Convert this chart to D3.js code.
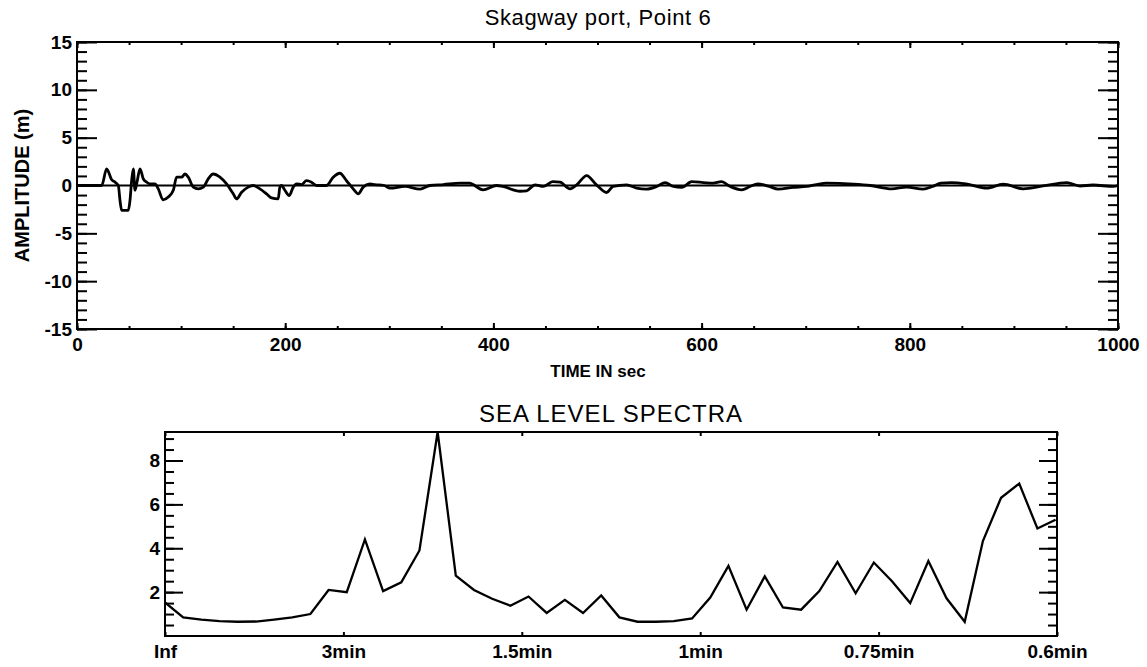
<!DOCTYPE html>
<html>
<head>
<meta charset="utf-8">
<script src="https://cdn.jsdelivr.net/npm/d3@7"></script>
<style>
  html, body { margin: 0; padding: 0; background: #fff; }
  svg { display: block; }
  text { font-family: "Liberation Sans", Arial, Helvetica, sans-serif; fill: #000; }
</style>
</head>
<body>
<svg id="chart" width="1147" height="667"></svg>
<script>
// ---------------- DATA ----------------
// Top panel: time series (sec, metres)
const topTimes = [0, 23.7, 28.5, 33.3, 36.5, 39.7, 41.3, 42.9, 49.3, 50.9, 52.5, 54.1, 55.7, 57.9, 60.5,
  63.7, 66.9, 70.1, 74.9, 78.1, 82.7, 87.7, 92.5, 95.7, 100.5, 103.7, 106.9, 111.7, 116.5, 121.3,
  126.1, 130.9, 137.3, 143.7, 150.1, 153.3, 158.1, 164.5, 169.3, 175.7, 182.1, 186.9, 193.3, 194.9,
  196.5, 199.7, 203.9, 207.7, 210.9, 215.7, 220.5, 225.3, 230.1, 239.7, 246.1, 252.5, 258.9, 265.3,
  270.1, 274.9, 281.3, 286.1, 295, 300.7, 315, 329.5, 339, 352, 368, 377, 390, 403, 409, 425.6, 432,
  440, 448, 457, 464, 473.6, 480, 489.6, 499, 508.8, 515, 528, 537.6, 547, 557, 565, 573, 581, 590.5,
  601.7, 611, 619, 627.5, 638.5, 646.5, 654, 665, 673.5, 688, 701, 710.5, 720, 746, 762, 782.6, 797,
  812.8, 822, 830, 840, 854, 874, 889.7, 908.9, 928, 950.7, 963.5, 976, 995.6, 1000];
const topAmps = [0, 0, 1.74, 0.6, 0.35, 0, -1.56, -2.6, -2.6, -1.56, 0.5, 1.74, -0.5, 0.5, 1.74,
  0.7, 0.35, 0.17, 0.17, -0.35, -1.5, -1.2, -0.5, 0.87, 0.87, 1.2, 0.87, -0.17, -0.35, -0.17,
  0.7, 1.2, 0.87, 0.17, -0.87, -1.4, -0.7, -0.17, 0, -0.35, -0.87, -1.3, -1.4, -0.17,
  0, -0.5, -1.05, -0.17, 0.17, 0.1, 0.5, 0.35, 0, 0, 0.87, 1.28, 0.5, -0.35,
  -0.87, -0.17, 0.17, 0.1, 0, -0.28, -0.1, -0.38, 0, 0.1, 0.24, 0.24, -0.45, 0, -0.1, -0.6, -0.55,
  0.07, -0.1, 0.4, 0.35, -0.35, 0.07, 1.04, 0.07, -0.73, -0.1, 0.07, -0.28, -0.38, -0.1, 0.31, -0.1, -0.2, 0.4,
  0.31, 0.24, 0.4, -0.1, -0.45, -0.1, 0.17, -0.1, -0.38, -0.2, -0.1, 0.1, 0.24, 0.14, 0, -0.35, -0.17,
  -0.38, -0.1, 0.24, 0.31, 0.17, -0.28, 0.14, -0.35, -0.05, 0.31, -0.05, 0.05, -0.1, 0];
const topXTicks = [0, 200, 400, 600, 800, 1000];
const topYTicks = [-15, -10, -5, 0, 5, 10, 15];

// Bottom panel: spectrum (frequency in mHz, spectral amplitude)
const specFreq = [0, 0.566, 1.132, 1.698, 2.264, 2.83, 3.396, 3.962, 4.528, 5.094, 5.66, 6.226, 6.792,
  7.358, 7.924, 8.49, 9.056, 9.622, 10.188, 10.754, 11.32, 11.886, 12.452, 13.018, 13.584, 14.15,
  14.716, 15.282, 15.848, 16.414, 16.98, 17.546, 18.112, 18.678, 19.244, 19.81, 20.376, 20.942,
  21.508, 22.074, 22.64, 23.206, 23.772, 24.338, 24.904, 25.47, 26.036, 26.602, 27.168, 27.734];
const specValues = [1.53, 0.85, 0.75, 0.68, 0.65, 0.66, 0.75, 0.85, 1.0, 2.1, 2.0, 4.4, 2.05,
  2.45, 3.9, 9.3, 2.75, 2.1, 1.7, 1.38, 1.8, 1.05, 1.65, 1.05, 1.85, 0.85,
  0.65, 0.65, 0.68, 0.8, 1.75, 3.2, 1.2, 2.72, 1.3, 1.2, 2.05, 3.38,
  1.95, 3.35, 2.5, 1.5, 3.42, 1.72, 0.65, 4.33, 6.3, 6.95, 4.9, 5.3];
const specXTicks = [0, 5.556, 11.111, 16.667, 22.222, 27.778];
const specXLabels = ["Inf", "3min", "1.5min", "1min", "0.75min", "0.6min"];
const specYTicks = [2, 4, 6, 8];

// ---------------- DRAW ----------------
const svg = d3.select("#chart");
svg.append("rect").attr("width", 1147).attr("height", 667).attr("fill", "#fff");

function frame(g, x, y, opts) {
  const [x0, x1] = x.range();
  const [y0, y1] = y.range(); // y0 bottom, y1 top
  const sw = 2;
  g.append("g").attr("transform", `translate(${x0},0)`)
    .call(d3.axisLeft(y).tickValues(opts.yMinor).tickSize(-opts.yMinorLen).tickFormat(""));
  g.append("g").attr("transform", `translate(${x1},0)`)
    .call(d3.axisRight(y).tickValues(opts.yMinor).tickSize(-opts.yMinorLen).tickFormat(""));
  g.append("g").attr("transform", `translate(${x0},0)`)
    .call(d3.axisLeft(y).tickValues(opts.yTicks).tickSize(-opts.yMajorLen).tickPadding(5)
      .tickFormat(d => String(d)));
  g.append("g").attr("transform", `translate(${x1},0)`)
    .call(d3.axisRight(y).tickValues(opts.yTicks).tickSize(-opts.yMajorLen).tickFormat(""));
  if (opts.xMinor) {
    g.append("g").attr("transform", `translate(0,${y0})`)
      .call(d3.axisBottom(x).tickValues(opts.xMinor).tickSize(-opts.xMinorLen).tickFormat(""));
    g.append("g").attr("transform", `translate(0,${y1})`)
      .call(d3.axisTop(x).tickValues(opts.xMinor).tickSize(-opts.xMinorLen).tickFormat(""));
  }
  g.append("g").attr("transform", `translate(0,${y0})`)
    .call(d3.axisBottom(x).tickValues(opts.xTicks).tickSize(-opts.xMajorLen).tickPadding(9)
      .tickFormat(opts.xFormat));
  g.append("g").attr("transform", `translate(0,${y1})`)
    .call(d3.axisTop(x).tickValues(opts.xTicks).tickSize(-opts.xMajorLen).tickFormat(""));
  g.selectAll(".domain").remove();
  g.selectAll(".tick line").attr("stroke", "#000").attr("stroke-width", sw);
  g.selectAll(".tick text").attr("font-size", opts.fontSize).attr("font-weight", "bold")
    .attr("fill", "#000").style("font-family", '"Liberation Sans", Arial, sans-serif');
  g.append("rect").attr("x", x0).attr("y", y1).attr("width", x1 - x0).attr("height", y0 - y1)
    .attr("fill", "none").attr("stroke", "#000").attr("stroke-width", sw);
}

// ---- Top panel ----
const xT = d3.scaleLinear().domain([0, 1000]).range([77, 1118]);
const yT = d3.scaleLinear().domain([-15, 15]).range([329, 42]);
const gT = svg.append("g");

gT.append("line").attr("x1", xT(0)).attr("x2", xT(1000)).attr("y1", yT(0)).attr("y2", yT(0))
  .attr("stroke", "#000").attr("stroke-width", 2);

const topSeries = topTimes.map((t, i) => [t, topAmps[i]]);
gT.append("path").datum(topSeries)
  .attr("fill", "none").attr("stroke", "#000").attr("stroke-width", 2.8)
  .attr("stroke-linejoin", "round")
  .attr("d", d3.line().x(d => xT(d[0])).y(d => yT(d[1])).curve(d3.curveMonotoneX));

frame(gT, xT, yT, {
  yTicks: topYTicks, yMinor: d3.range(-15, 16, 1), yMajorLen: 20, yMinorLen: 10,
  xTicks: topXTicks, xMinor: d3.range(0, 1001, 50), xMajorLen: 6, xMinorLen: 3,
  xFormat: d => String(d), fontSize: 19
});

gT.append("text").attr("x", 598).attr("y", 25).attr("text-anchor", "middle")
  .attr("font-size", 22).attr("letter-spacing", 0.6).text("Skagway port, Point 6");
gT.append("text").attr("x", 598).attr("y", 377).attr("text-anchor", "middle")
  .attr("font-size", 17).attr("font-weight", "bold").text("TIME IN sec");
gT.append("text").attr("transform", `translate(29,${(42 + 329) / 2}) rotate(-90)`)
  .attr("text-anchor", "middle").attr("font-size", 20).attr("font-weight", "bold")
  .text("AMPLITUDE (m)");

// ---- Bottom panel ----
const xB = d3.scaleLinear().domain([0, 27.778]).range([165, 1057]);
const yB = d3.scaleLinear().domain([0, 9.3]).range([636, 432]);
const gB = svg.append("g");

svg.append("clipPath").attr("id", "clipB").append("rect")
  .attr("x", 165).attr("y", 430).attr("width", 1057 - 165).attr("height", 208);

const specSeries = specFreq.map((f, i) => [f, specValues[i]]);
gB.append("path").datum(specSeries).attr("clip-path", "url(#clipB)")
  .attr("fill", "none").attr("stroke", "#000").attr("stroke-width", 2.3)
  .attr("stroke-linejoin", "miter")
  .attr("d", d3.line().x(d => xB(d[0])).y(d => yB(d[1])));

frame(gB, xB, yB, {
  yTicks: specYTicks, yMinor: d3.range(0.5, 9.3, 0.5), yMajorLen: 18, yMinorLen: 9,
  xTicks: specXTicks, xMinor: null, xMajorLen: 4, xMinorLen: 2,
  xFormat: (d, i) => specXLabels[i], fontSize: 19
});

gB.append("text").attr("x", 611).attr("y", 422).attr("text-anchor", "middle")
  .attr("font-size", 24).attr("letter-spacing", 1).text("SEA LEVEL SPECTRA");
</script>
</body>
</html>
